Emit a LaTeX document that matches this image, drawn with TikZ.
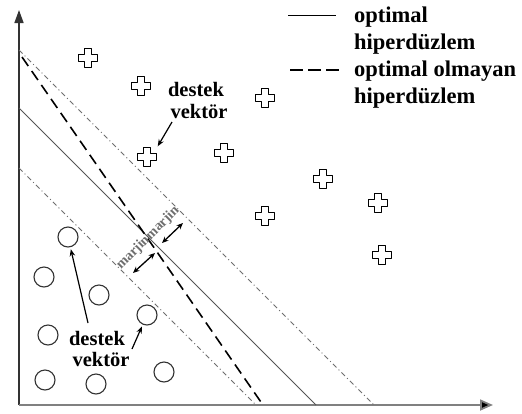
\documentclass[tikz,border=0pt]{standalone}
\usepackage{fontspec}
\setmainfont{Liberation Serif}
\usetikzlibrary{arrows.meta,calc}
\definecolor{axgray}{HTML}{333333}
\definecolor{linegray}{HTML}{555555}
\definecolor{margray}{HTML}{6E6E6E}
\tikzset{
  plusmk/.style={minimum size=21pt, inner sep=0pt, path picture={
    \draw[line width=1.1pt, line join=round, shift={(path picture bounding box.center)}]
      (-3.8pt,-9.3pt) -- (3.8pt,-9.3pt) -- (3.8pt,-3.8pt) -- (9.3pt,-3.8pt) -- (9.3pt,3.8pt) -- (3.8pt,3.8pt)
      -- (3.8pt,9.3pt) -- (-3.8pt,9.3pt) -- (-3.8pt,3.8pt) -- (-9.3pt,3.8pt) -- (-9.3pt,-3.8pt) -- (-3.8pt,-3.8pt) -- cycle;}},
  circmk/.style={circle, draw=axgray, line width=1.1pt, minimum size=20pt, inner sep=0pt},
  legtext/.style={anchor=base west, inner sep=0pt, font=\bfseries\fontsize{22.5}{26}\selectfont},
  lbltext/.style={anchor=base, inner sep=0pt, font=\bfseries\fontsize{20.5}{24}\selectfont},
  martext/.style={rotate=45, inner sep=0pt, text=margray, font=\bfseries\fontsize{14}{16}\selectfont},
  lblarrow/.style={line width=1.2pt, -{Stealth[length=7pt,width=5.5pt]}},
  dblarrow/.style={line width=1.3pt, {Stealth[length=6.5pt,width=5.5pt]}-{Stealth[length=6.5pt,width=5.5pt]}},
  optline/.style={line width=1pt, draw=linegray},
  nonopt/.style={line width=1.6pt, dash pattern=on 11pt off 6pt},
  marline/.style={line width=1pt, draw=margray, dash pattern=on 5pt off 3pt on 1pt off 3pt},
}
\begin{document}
\begin{tikzpicture}[x=1pt,y=-1pt]
\useasboundingbox (0,0) rectangle (522,413);
% axes
\coordinate (O) at (19,405);
\coordinate (Ytip) at (19,10);
\coordinate (Xtip) at (493,405);
\draw[line width=1.5pt, draw=axgray, -{Triangle[length=13pt,width=9pt]}] (O) -- (Ytip);
\draw[line width=1.8pt, draw=gray, -{Triangle[length=13pt,width=11pt,fill=black]}] (O) -- (Xtip);
% hyperplanes
\coordinate (ua) at (19,50);  \coordinate (ub) at (374,405);
\coordinate (sa) at (19,108); \coordinate (sb) at (316,405);
\coordinate (la) at (19,168); \coordinate (lb) at (256,405);
\coordinate (da) at (22,57);  \coordinate (db) at (263,405);
\draw[marline] (ua) -- (ub);
\draw[marline] (la) -- (lb);
\draw[optline] (sa) -- (sb);
\draw[nonopt] (da) -- (db);
% crosses
\node[plusmk] (p1) at (88,58) {};
\node[plusmk] (p2) at (141,86) {};
\node[plusmk] (p3) at (147,157) {};
\node[plusmk] (p4) at (224,153) {};
\node[plusmk] (p5) at (265,98) {};
\node[plusmk] (p6) at (323,179) {};
\node[plusmk] (p7) at (378,203) {};
\node[plusmk] (p8) at (265,216) {};
\node[plusmk] (p9) at (382,255) {};
% circles
\node[circmk] (c1) at (68,237) {};
\node[circmk] (c2) at (44,277) {};
\node[circmk] (c3) at (99,295) {};
\node[circmk] (c4) at (147,315) {};
\node[circmk] (c5) at (48,335) {};
\node[circmk] (c6) at (45,380) {};
\node[circmk] (c7) at (96,384) {};
\node[circmk] (c8) at (164,372) {};
% margin arrows
\coordinate (m1a) at (162,243); \coordinate (m1b) at (183,223);
\coordinate (m2a) at (133,273); \coordinate (m2b) at (155,253);
\draw[dblarrow] (m1a) -- (m1b);
\draw[dblarrow] (m2a) -- (m2b);
\node[martext] (mar) at (148,238) {marjin\hspace{0.5pt}marjin};
% labels
\node[lbltext] (d1a) at (196,96) {destek};
\node[lbltext] (d1b) at (199,118) {vektör};
\node[lbltext] (d2a) at (97,345) {destek};
\node[lbltext] (d2b) at (101,366) {vektör};
\coordinate (t1) at (172,122);
\coordinate (t2) at (88,323);
\coordinate (t3) at (132,349);
\draw[lblarrow] (t1) -- (p3.north east);
\draw[lblarrow, shorten >=2pt] (t2) -- (c1);
\draw[lblarrow, shorten >=2pt] (t3) -- (c4);
% legend
\coordinate (ls1) at (288,15); \coordinate (ls2) at (336,15);
\coordinate (ld1) at (290,70); \coordinate (ld2) at (339,70);
\draw[line width=1pt] (ls1) -- (ls2);
\draw[line width=2.2pt, dash pattern=on 13pt off 5pt] (ld1) -- (ld2);
\node[legtext] (g1) at (354,22) {optimal};
\node[legtext] (g2) at (354,49) {hiperdüzlem};
\node[legtext] (g3) at (354,76) {optimal olmayan};
\node[legtext] (g4) at (354,103) {hiperdüzlem};
\end{tikzpicture}
\end{document}
